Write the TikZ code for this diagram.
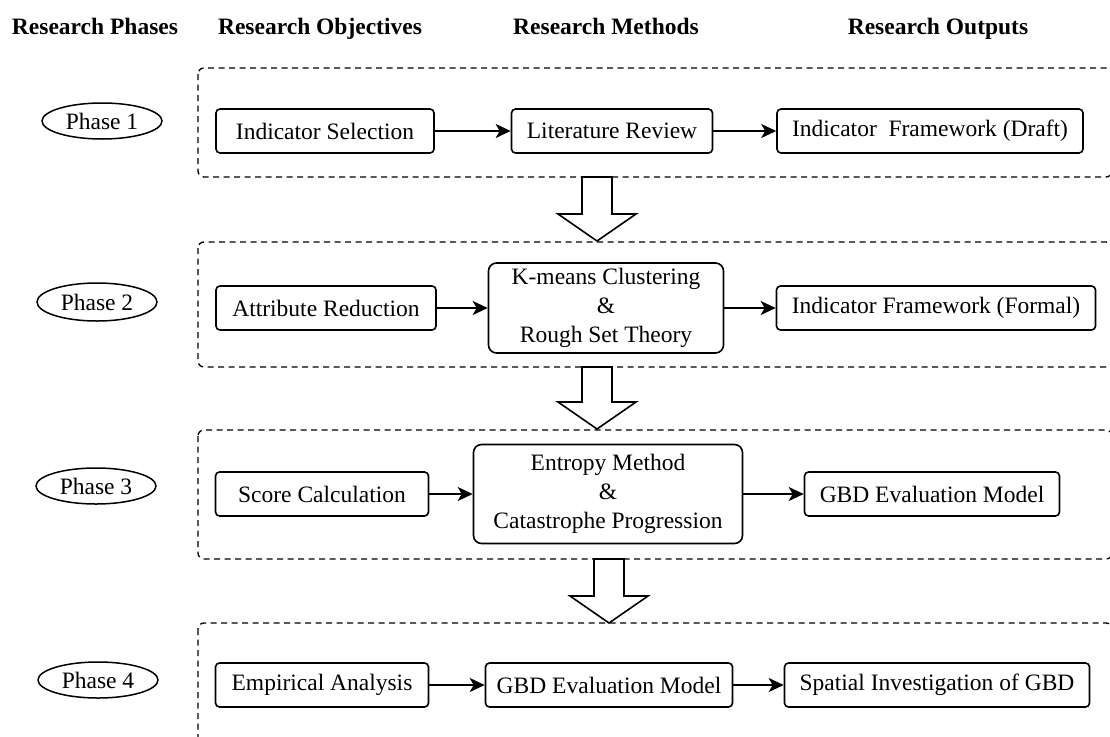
\documentclass[tikz,border=0pt]{standalone}
\usepackage{fontspec}
\setmainfont{Liberation Serif}
\usetikzlibrary{shapes.geometric,arrows.meta}

% hollow downward block arrow: centre x, top y, tip y
\newcommand\phasearrow[3]{%
  \draw[blockarrow] (#1-15,#2) -- (#1+15,#2) -- (#1+15,#3-27) -- (#1+39,#3-27)
    -- (#1,#3) -- (#1-39,#3-27) -- (#1-15,#3-27) -- cycle;}

\begin{document}
\begin{tikzpicture}[x=1pt,y=-1pt,
  txt/.style={font=\rmfamily\mdseries\fontsize{23.5}{29}\selectfont},
  head/.style={font=\rmfamily\bfseries\fontsize{23.5}{29}\selectfont, anchor=base, inner sep=0pt},
  stepbox/.style={draw, line width=1.6pt, rounded corners=4pt, inner sep=0pt, minimum height=44pt, txt},
  bigbox/.style={draw, line width=1.6pt, rounded corners=8pt, inner sep=0pt, align=center, txt},
  phase/.style={draw, ellipse, line width=1.5pt, inner sep=0pt, minimum width=120pt, minimum height=36pt, txt},
  group/.style={draw, line width=1.3pt, dash pattern=on 6pt off 4.5pt, rounded corners=6pt},
  arr/.style={-{Stealth[length=15pt,width=14pt,inset=4pt]}, line width=2pt},
  blockarrow/.style={draw, line width=1.6pt, fill=white, line join=miter}
]
\clip (0,0) rectangle (1110,736);
\fill[white] (0,0) rectangle (1110,736);

% column headings
\node[head] (h1) at (95,34)  {Research Phases};
\node[head] (h2) at (320,34) {Research Objectives};
\node[head] (h3) at (606,34) {Research Methods};
\node[head] (h4) at (938,34) {Research Outputs};

% dashed phase groups
\draw[group] (198,68)  rectangle (1112,177);
\draw[group] (198,242) rectangle (1112,367);
\draw[group] (198,430) rectangle (1112,559);
\draw[group] (198,623) rectangle (1112,770);

% transitions between phases
\phasearrow{597}{177}{241}
\phasearrow{597}{367}{429}
\phasearrow{609}{559}{623}

% phase labels
\node[phase] (p1) at (102,121) {Phase 1};
\node[phase, minimum height=38pt] (p2) at (97,302) {Phase 2};
\node[phase] (p3) at (96,486) {Phase 3};
\node[phase] (p4) at (98,680) {Phase 4};

% phase 1
\node[stepbox, minimum width=218pt] (sel)   at (325,131) {Indicator Selection};
\node[stepbox, minimum width=201pt] (lit)   at (612,131) {Literature Review};
\node[stepbox, minimum width=306pt] (draft) at (930,131) {Indicator~~Framework (Draft)};
\draw[arr] (sel) -- (lit);
\draw[arr] (lit) -- (draft);

% phase 2
\node[stepbox, minimum width=220pt] (attr)   at (326,308) {Attribute Reduction};
\node[bigbox, minimum width=235pt, minimum height=90pt] (kmeans) at (606,308)
  {K-means Clustering\\\&\\Rough Set Theory};
\node[stepbox, minimum width=319pt] (formal) at (936,308) {Indicator Framework (Formal)};
\draw[arr] (attr) -- (kmeans);
\draw[arr] (kmeans) -- (formal);

% phase 3
\node[stepbox, minimum width=213pt] (score)   at (322,494) {Score Calculation};
\node[bigbox, minimum width=269pt, minimum height=99pt] (entropy) at (608,494)
  {Entropy Method\\\&\\Catastrophe Progression};
\node[stepbox, minimum width=255pt] (gbd)     at (932,494) {GBD Evaluation Model};
\draw[arr] (score) -- (entropy);
\draw[arr] (entropy) -- (gbd);

% phase 4
\node[stepbox, minimum width=213pt] (emp)     at (322,685) {Empirical Analysis};
\node[stepbox, minimum width=247pt] (gbdtwo)  at (609,685) {GBD Evaluation Model};
\node[stepbox, minimum width=305pt] (spatial) at (937,685) {Spatial Investigation of GBD};
\draw[arr] (emp) -- (gbdtwo);
\draw[arr] (gbdtwo) -- (spatial);
\end{tikzpicture}
\end{document}
